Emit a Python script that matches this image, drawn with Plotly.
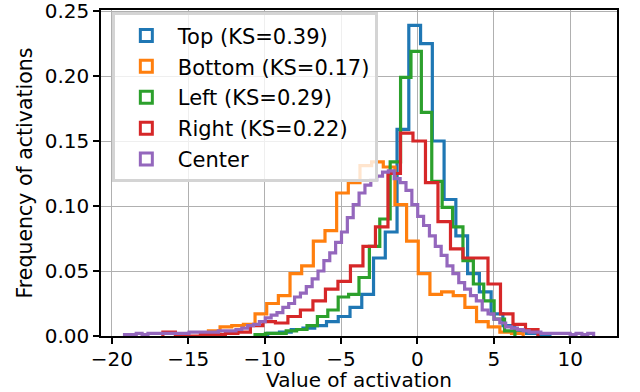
import numpy as np
import plotly.graph_objects as go

# ------------------------------------------------------------
# Step histograms (density) of activations per region
# heights, bins span each series' range
# ------------------------------------------------------------
TOP_RANGE = (-10.57, 8.67)
TOP = [0.001, 0.002, 0.003, 0.005, 0.006, 0.008, 0.011, 0.015, 0.022, 0.032,
       0.060, 0.080, 0.159, 0.239, 0.225, 0.150, 0.105, 0.077, 0.048, 0.034,
       0.017, 0.008, 0.004, 0.002, 0.001]

BOTTOM_RANGE = (-13.68, 6.92)
BOTTOM = [0.004, 0.007, 0.008, 0.009, 0.017, 0.025, 0.031, 0.048, 0.054, 0.073,
          0.081, 0.110, 0.118, 0.131, 0.134, 0.130, 0.101, 0.073, 0.048, 0.032,
          0.034, 0.031, 0.022, 0.011, 0.007, 0.003, 0.002]

LEFT_RANGE = (-10.63, 6.38)
LEFT = [0.001, 0.002, 0.002, 0.004, 0.005, 0.008, 0.015, 0.020, 0.030, 0.032,
        0.045, 0.069, 0.090, 0.134, 0.199, 0.219, 0.172, 0.119, 0.099, 0.084,
        0.058, 0.040, 0.027, 0.013, 0.004]

RIGHT_RANGE = (-16.66, 7.89)
RIGHT = [0.003, 0.000, 0.000, 0.001, 0.001, 0.002, 0.003, 0.008, 0.011, 0.010,
         0.015, 0.020, 0.027, 0.036, 0.042, 0.054, 0.069, 0.084, 0.125, 0.156,
         0.150, 0.118, 0.088, 0.067, 0.060, 0.060, 0.040, 0.017, 0.009, 0.005]

CENTER_RANGE = (-19.17, 11.53)
CENTER = [0.001, 0.001, 0.002, 0.001, 0.002, 0.002, 0.002, 0.002, 0.002, 0.002,
          0.002, 0.003, 0.003, 0.003, 0.003, 0.003, 0.004, 0.004, 0.004, 0.005,
          0.006, 0.008, 0.009, 0.011, 0.014, 0.016, 0.018, 0.022, 0.025, 0.030,
          0.033, 0.038, 0.044, 0.050, 0.058, 0.064, 0.072, 0.080, 0.091, 0.101,
          0.110, 0.116, 0.120, 0.123, 0.126, 0.127, 0.121, 0.118, 0.112, 0.101,
          0.092, 0.085, 0.077, 0.069, 0.062, 0.054, 0.048, 0.041, 0.036, 0.031,
          0.027, 0.020, 0.017, 0.013, 0.010, 0.007, 0.006, 0.005, 0.004, 0.003,
          0.003, 0.002, 0.002, 0.002, 0.002, 0.002, 0.001, 0.002, 0.001, 0.002]

NAMES = ["Top (KS=0.39)", "Bottom (KS=0.17)", "Left (KS=0.29)",
         "Right (KS=0.22)", "Center"]
X_TICKS = [-20, -15, -10, -5, 0, 5, 10]
Y_TICKS = [0.00, 0.05, 0.10, 0.15, 0.20, 0.25]

series = [(TOP_RANGE, TOP), (BOTTOM_RANGE, BOTTOM), (LEFT_RANGE, LEFT),
          (RIGHT_RANGE, RIGHT), (CENTER_RANGE, CENTER)]
colors = ["#1f77b4", "#ff7f0e", "#2ca02c", "#d62728", "#9467bd"]

fig = go.Figure()

for (rng, h), name, col in zip(series, NAMES, colors):
    edges = np.linspace(rng[0], rng[1], len(h) + 1)
    # outline like matplotlib histtype="step": up from 0, across bins, back to 0
    xs = np.concatenate([[edges[0]], edges[:-1], [edges[-1]]])
    ys = np.concatenate([[0], h, [0]])
    fig.add_trace(go.Scatter(
        x=xs, y=ys, mode="lines", line_shape="hv",
        line=dict(color=col, width=3.2),
        showlegend=False, hoverinfo="skip",
    ))

# legend entries drawn as outlined boxes (like matplotlib patches)
for name, col in zip(NAMES, colors):
    fig.add_trace(go.Bar(
        x=[None], y=[None], name=name, legendgroup=name,
        marker=dict(color="white", line=dict(color=col, width=3)),
    ))

axis_common = dict(
    showline=True, linecolor="black", linewidth=1.6, mirror=True,
    ticks="outside", ticklen=6, tickwidth=1.5, tickcolor="black",
    showgrid=True, gridcolor="#b0b0b0", gridwidth=1.4,
    zeroline=False, tickfont=dict(size=20, color="black"),
    automargin=False, ticklabeloverflow="allow",
)

fig.update_layout(
    width=640, height=392,
    margin=dict(l=101, r=23, t=10, b=56),
    plot_bgcolor="white", paper_bgcolor="white",
    font=dict(family="DejaVu Sans", color="black"),
    xaxis=dict(range=[-20.71, 13.06], tickvals=X_TICKS, ticklabelstandoff=-2,
               title=dict(text="Value of activation", font=dict(size=20)),
               **axis_common),
    yaxis=dict(range=[0, 0.2508], tickvals=Y_TICKS, tickformat=".2f",
               title=dict(text="Frequency of activations", font=dict(size=20.5), standoff=6),
               **axis_common),
    legend=dict(
        x=0.021, y=0.993, xanchor="left", yanchor="top",
        bgcolor="rgba(255,255,255,0.8)", bordercolor="#d4d4d4", borderwidth=3,
        font=dict(size=21), itemwidth=53, tracegroupgap=0.6,
        traceorder="grouped",
    ),
)

# page body has a default 8px margin; drop it so the figure sits at 0,0
fig.write_html("out.html", config={"displayModeBar": False},
               post_script="document.body.style.margin = '0';")
